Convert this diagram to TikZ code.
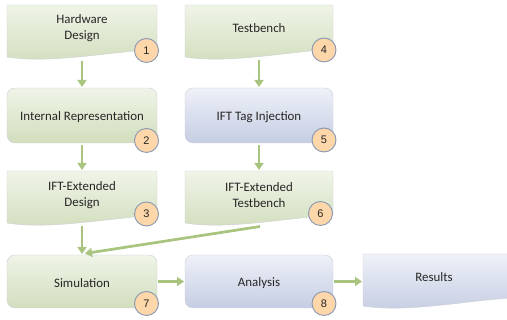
\documentclass[tikz,border=0pt]{standalone}
\usepackage{fontspec}
\setmainfont{Carlito}
\newfontfamily\numfont{Liberation Sans}
\usetikzlibrary{arrows.meta,calc}
\definecolor{gtop}{HTML}{EFF4E8}
\definecolor{gbot}{HTML}{D2DEBD}
\definecolor{btop}{HTML}{EFF1F8}
\definecolor{bbot}{HTML}{C5CDE3}
\definecolor{circfill}{HTML}{FDD7AA}
\definecolor{circdraw}{HTML}{8797B3}
\definecolor{arrowc}{HTML}{A8C47E}
\definecolor{txt}{HTML}{262626}
\definecolor{edge}{HTML}{CDD0D4}
\newcommand\docshape[2]{%
  \shade[#2, draw=edge, line width=0.4pt]
    (#1.north west) -- (#1.north east) -- ([yshift=9pt]#1.south east)
    .. controls ([xshift=-47pt,yshift=6pt]#1.south east) and ([xshift=43pt,yshift=-6pt]#1.south west) ..
    ([yshift=1pt]#1.south west) -- cycle;}
\begin{document}
\begin{tikzpicture}[x=1pt,y=1pt,
  frame/.style={minimum width=150pt, minimum height=53pt, inner sep=0pt, outer sep=0pt},
  roundbox/.style={frame, rounded corners=8pt, draw=edge, line width=0.4pt},
  greenfill/.style={top color=gtop, bottom color=gbot},
  bluefill/.style={top color=btop, bottom color=bbot},
  boxtext/.style={text=txt, font=\fontsize{12.9}{15.8}\selectfont, align=center, inner sep=0pt},
  num/.style={circle, draw=circdraw, fill=circfill, line width=0.9pt, minimum size=24pt, inner sep=0pt, font=\numfont\fontsize{11}{11}\selectfont, text=black!85},
  flow/.style={draw=arrowc, line width=2.7pt, -{Triangle[length=7pt,width=9pt]}},
]
\useasboundingbox (0,0) rectangle (507,320);

% frames
\node[frame] (hw) at (82,288.5) {};
\node[roundbox, greenfill, minimum height=55pt] (ir) at (82,204.5) {};
\node[frame] (ift3) at (82,122.5) {};
\node[frame, minimum width=148pt] (tb) at (259,288.5) {};
\node[roundbox, bluefill, minimum width=148pt, minimum height=55pt] (tag) at (259,204.5) {};
\node[frame, minimum width=148pt] (ift6) at (259,122.5) {};
\node[roundbox, greenfill] (sim) at (82,38.5) {};
\node[roundbox, bluefill, minimum width=148pt] (ana) at (259,38.5) {};
\node[frame, minimum width=148pt] (res) at (437,39.5) {};

\docshape{hw}{greenfill}
\docshape{ift3}{greenfill}
\docshape{tb}{greenfill}
\docshape{ift6}{greenfill}
\docshape{res}{bluefill}

% texts
\node[boxtext] (hwt) at ([yshift=3.5pt]hw.center) {Hardware\\Design};
\node[boxtext] (irt) at ([yshift=-1.5pt]ir.center) {Internal Representation};
\node[boxtext] (ift3t) at ([yshift=2.5pt]ift3.center) {IFT-Extended\\Design};
\node[boxtext] (tbt) at ([yshift=3.5pt]tb.center) {Testbench};
\node[boxtext] (tagt) at ([yshift=-1.5pt]tag.center) {IFT Tag Injection};
\node[boxtext] (ift6t) at ([yshift=2.5pt]ift6.center) {IFT-Extended\\Testbench};
\node[boxtext] (simt) at ([yshift=-1.5pt]sim.center) {Simulation};
\node[boxtext] (anat) at ([yshift=-1.5pt]ana.center) {Analysis};
\node[boxtext] (rest) at ([xshift=-3pt,yshift=3pt]res.center) {Results};

% numbers
\node[num] (c1) at (146.5,269.5) {1};
\node[num] (c2) at (146.5,179.5) {2};
\node[num] (c3) at (146.5,106) {3};
\node[num] (c4) at (324,270) {4};
\node[num] (c5) at (324,180) {5};
\node[num] (c6) at (320.5,106.5) {6};
\node[num] (c7) at (146.5,16.5) {7};
\node[num] (c8) at (324,16.5) {8};

% connectors
\draw[flow] ([yshift=-3pt]hw.south) -- ([yshift=1pt]ir.north);
\draw[flow] ([yshift=-2pt]tb.south) -- ([yshift=1pt]tag.north);
\draw[flow] ([yshift=-2pt]ir.south) -- ([yshift=1pt]ift3.north);
\draw[flow] ([yshift=-2pt]tag.south) -- ([yshift=1pt]ift6.north);
\draw[flow] ([yshift=-2pt]ift3.south) -- ([yshift=1pt]sim.north);
\draw[flow] ([xshift=1pt,yshift=-2.5pt]ift6.south) -- ([xshift=3pt,yshift=1.5pt]sim.north);
\draw[flow] ([xshift=1pt]sim.east) -- ([xshift=-1pt]ana.west);
\draw[flow] ([xshift=1pt]ana.east) -- ([xshift=-1pt]ana.east -| res.west);
\end{tikzpicture}
\end{document}
